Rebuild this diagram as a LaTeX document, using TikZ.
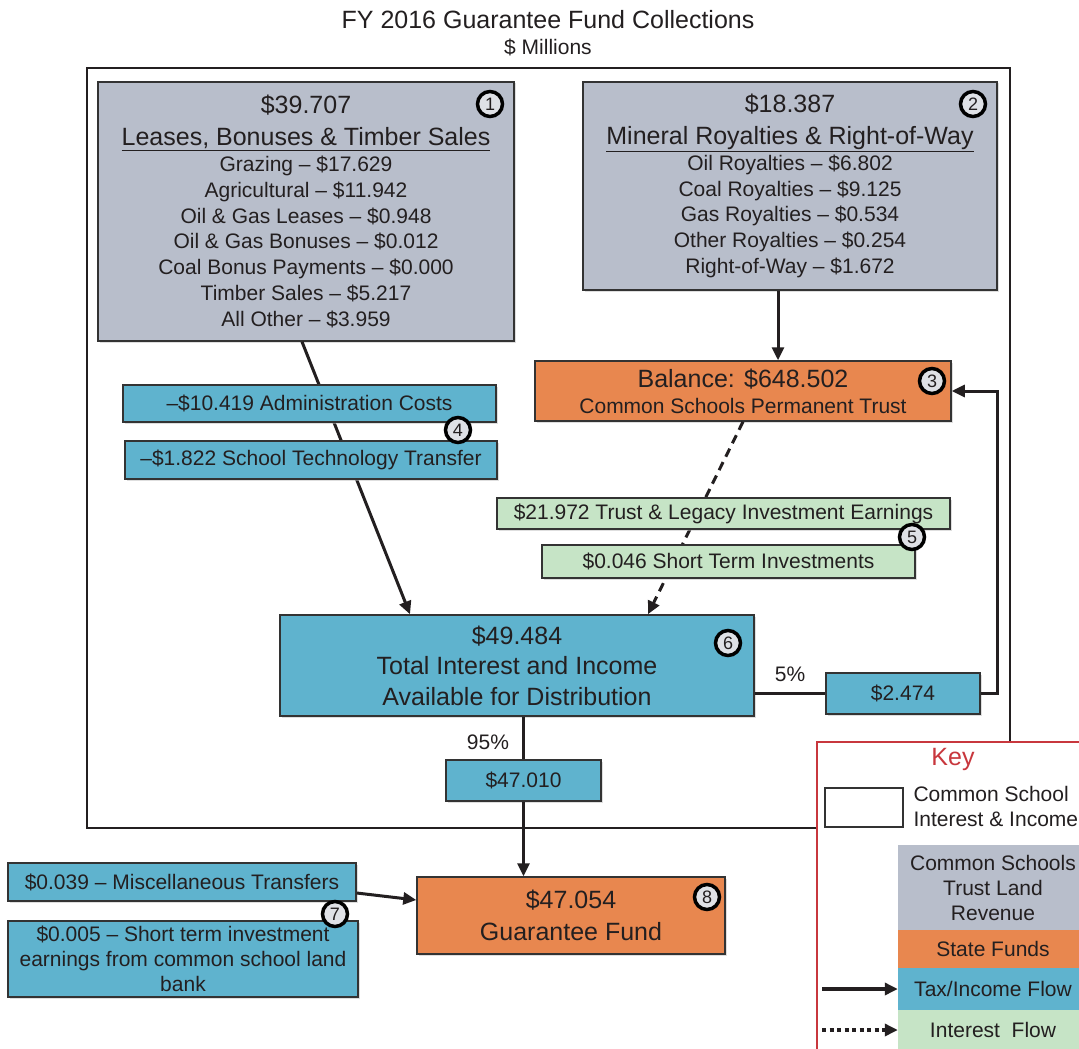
\documentclass[tikz,border=0pt]{standalone}
\usepackage{fontspec}
\setmainfont{Liberation Sans}
\usetikzlibrary{arrows.meta,calc,positioning,shadows}
\definecolor{gfLand}{HTML}{B8BECB}
\definecolor{gfFund}{HTML}{E8874F}
\definecolor{gfFlow}{HTML}{5FB3CE}
\definecolor{gfInt}{HTML}{C6E4C6}
\definecolor{gfInk}{HTML}{231F20}
\definecolor{gfLine}{HTML}{333333}
\definecolor{gfBadge}{HTML}{DFE1E6}
\definecolor{gfRed}{HTML}{C8373D}

\begin{document}
\begin{tikzpicture}[x=1pt,y=-1pt,>=Latex,line join=miter]
\useasboundingbox (0,0) rectangle (1079,1049);
\path[fill=white] (0,0) rectangle (1079,1049);
\tikzset{base/.style={draw=gfLine,line width=1.5pt,align=center,inner sep=0pt,text=gfInk,font=\fontsize{21}{25.8}\selectfont,drop shadow={shadow xshift=1.5pt,shadow yshift=-1.5pt,fill=black!25}},landbox/.style={base,fill=gfLand},fundbox/.style={base,fill=gfFund},flowbox/.style={base,fill=gfFlow},intbox/.style={base,fill=gfInt},badge/.style={circle,draw=black,line width=3.5pt,fill=gfBadge,inner sep=0pt,minimum size=25pt,text=gfInk,font=\fontsize{18}{18}\selectfont},flowline/.style={draw=gfInk,line width=3pt,-{Triangle[length=13pt,width=12pt]}},intline/.style={flowline,dash pattern=on 9pt off 6pt},link/.style={draw=gfInk,line width=3pt},keycell/.style={inner sep=0pt,minimum width=190pt,align=center,text=gfInk,font=\fontsize{21}{25}\selectfont},plain/.style={text=gfInk,font=\fontsize{21}{25}\selectfont},big/.style={font=\fontsize{25}{#1}\selectfont}}
\node[text=gfInk,font=\fontsize{25}{30}\selectfont] (title) at (548,20) {FY 2016 Guarantee Fund Collections};
\node[plain] (units) at (548,47) {\$ Millions};
\draw[draw=gfInk,line width=1.6pt] (87,68) rectangle (1010,828);
\node[landbox,minimum width=416pt,minimum height=259pt] (lease) at (306,211.5) {\fontsize{25}{30}\selectfont \$39.707\\[6pt]\fontsize{25}{30}\selectfont\underline{Leases, Bonuses \& Timber Sales}\\Grazing – \$17.629\\Agricultural – \$11.942\\Oil \& Gas Leases – \$0.948\\Oil \& Gas Bonuses – \$0.012\\Coal Bonus Payments – \$0.000\\Timber Sales – \$5.217\\All Other – \$3.959};
\node[landbox,minimum width=414pt,minimum height=208pt] (mineral) at (790,186) {\fontsize{25}{30}\selectfont \$18.387\\[6pt]\fontsize{25}{30}\selectfont\underline{Mineral Royalties \& Right-of-Way}\\Oil Royalties – \$6.802\\Coal Royalties – \$9.125\\Gas Royalties – \$0.534\\Other Royalties – \$0.254\\Right-of-Way – \$1.672};
\node[fundbox,minimum width=416pt,minimum height=60pt] (trust) at (743,391) {\fontsize{25}{30}\selectfont Balance: \$648.502\\Common Schools Permanent Trust};
\node[flowbox,big=30.5,minimum width=474pt,minimum height=101pt] (total) at (517,665.5) {\$49.484\\Total Interest and Income\\Available for Distribution};
\node[flowbox,minimum width=154pt,minimum height=41pt] (share) at (903,693.5) {\$2.474};
\node[flowbox,minimum width=155pt,minimum height=41pt] (dist) at (523.5,780.5) {\$47.010};
\node[fundbox,big=32,minimum width=308pt,minimum height=77pt] (guarantee) at (571,915.5) {\$47.054\\Guarantee Fund};
\draw[flowline] ([xshift=-4pt]lease.south) -- ([xshift=-107pt]total.north);
\draw[flowline] ([xshift=-12pt]mineral.south) -- ([xshift=-12pt]mineral.south |- trust.north);
\draw[intline] (trust.south) -- ([xshift=131pt]total.north);
\draw[link] (total.east |- share.west) -- (share.west);
\draw[flowline] (share.east) -- ++(17,0) |- (trust.east);
\draw[link] (dist.north |- total.south) -- (dist.north);
\draw[flowline] (dist.south) -- (dist.south |- guarantee.north);
\node[plain] (pctfive) at (790,674) {5\%};
\node[plain] (pctninetyfive) at (488,742) {95\%};
\node[flowbox,minimum width=373pt,minimum height=37pt] (admin) at (309.5,403.5) {–\$10.419 Administration Costs};
\node[flowbox,minimum width=372pt,minimum height=38pt] (tech) at (311,460) {–\$1.822 School Technology Transfer};
\node[intbox,minimum width=453pt,minimum height=31pt] (legacy) at (723.5,513.5) {\$21.972 Trust \& Legacy Investment Earnings};
\node[intbox,minimum width=373pt,minimum height=33pt] (shortterm) at (728.5,561.5) {\$0.046 Short Term Investments};
\node[flowbox,minimum width=348pt,minimum height=38pt] (misc) at (182,882) {\$0.039 – Miscellaneous Transfers};
\node[flowbox,minimum width=350pt,minimum height=76pt,font=\fontsize{21}{25}\selectfont] (landbank) at (183,959) {\$0.005 – Short term investment\\earnings from common school land\\bank};
\draw[flowline] ([yshift=-11pt]misc.east) -- ([yshift=15.5pt]guarantee.west);
\node[badge] (bone) at (490,104) {1};
\node[badge] (btwo) at (973,104) {2};
\node[badge] (bthree) at (932,381) {3};
\node[badge] (bfour) at (458,430) {4};
\node[badge] (bfive) at (912,537) {5};
\node[badge] (bsix) at (728,643) {6};
\node[badge] (bseven) at (335,914) {7};
\node[badge] (beight) at (707,897) {8};
\draw[draw=gfRed,fill=white,line width=1.6pt] (817,742) rectangle (1095,1065);
\node[text=gfRed,font=\fontsize{25}{30}\selectfont] (keytitle) at (953,759) {Key};
\node[draw=gfLine,line width=1.5pt,minimum width=78pt,minimum height=39pt] (keybox) at (864,807.5) {};
\node[plain,anchor=west,align=left] (keyboxtxt) at (910,806) {Common School\\Interest \& Income};
\node[keycell,fill=gfLand,minimum height=85pt] (keyland) at (993,887.5) {Common Schools\\Trust Land\\Revenue};
\node[keycell,fill=gfFund,minimum height=38pt] (keyfund) at (993,949) {State Funds};
\node[keycell,fill=gfFlow,minimum height=42pt] (keyflow) at (993,989) {Tax/Income Flow};
\node[keycell,fill=gfInt,minimum height=40pt] (keyint) at (993,1030) {Interest~~Flow};
\coordinate (keysolid) at (822,989);
\coordinate (keydotted) at (822,1030);
\draw[flowline,line width=3.5pt] (keysolid) -- (keyflow.west);
\draw[flowline,line width=4pt,dash pattern=on 4pt off 3.5pt] (keydotted) -- (keyint.west);
\end{tikzpicture}
\end{document}
